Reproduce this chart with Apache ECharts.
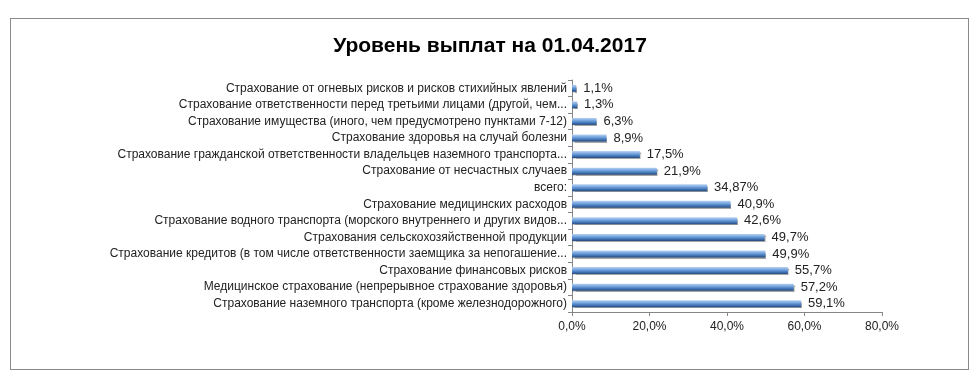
<!DOCTYPE html>
<html>
<head>
<meta charset="utf-8">
<script src="https://cdn.jsdelivr.net/npm/echarts@6/dist/echarts.min.js"></script>
<style>
html,body{margin:0;padding:0;background:#fff;}
#frame{position:absolute;left:10px;top:18px;width:959px;height:352px;border:1px solid #8a8a8a;box-sizing:border-box;}
#chart{position:absolute;left:0;top:0;width:980px;height:382px;}
</style>
</head>
<body>
<div id="frame"></div>
<div id="chart"></div>
<script>
const categories = [
  "Страхование от огневых рисков и рисков стихийных явлений",
  "Страхование ответственности перед третьими лицами (другой, чем...",
  "Страхование имущества (иного, чем предусмотрено пунктами 7-12)",
  "Страхование здоровья на случай болезни",
  "Страхование гражданской ответственности владельцев наземного транспорта...",
  "Страхование от несчастных случаев",
  "всего:",
  "Страхование медицинских расходов",
  "Страхование водного транспорта (морского внутреннего и других видов...",
  "Страхования сельскохозяйственной продукции",
  "Страхование кредитов (в том числе ответственности заемщика за непогашение...",
  "Страхование финансовых рисков",
  "Медицинское страхование (непрерывное страхование здоровья)",
  "Страхование наземного транспорта (кроме железнодорожного)"
];
const values = [1.1, 1.3, 6.3, 8.9, 17.5, 21.9, 34.87, 40.9, 42.6, 49.7, 49.9, 55.7, 57.2, 59.1];
const xTicks = [0, 20, 40, 60, 80];
const title = "Уровень выплат на 01.04.2017";

const chart = echarts.init(document.getElementById('chart'));
const font = "'Liberation Sans', Arial, sans-serif";
chart.setOption({
  animation: false,
  title: {
    text: title, left: 'center', top: 31,
    textStyle: {fontFamily: font, fontSize: 21, fontWeight: 'bold', color: '#000'}
  },
  grid: {left: 572, right: 98, top: 80, bottom: 70, containLabel: false},
  xAxis: {
    type: 'value', min: xTicks[0], max: xTicks[xTicks.length-1], interval: 20,
    splitLine: {show: false},
    axisLine: {show: true, lineStyle: {color: '#868686', width: 1}},
    axisTick: {show: true, length: 4, lineStyle: {color: '#868686'}},
    axisLabel: {fontFamily: font, fontSize: 12, color: '#222', margin: 9,
      formatter: v => v.toFixed(1).replace('.', ',') + '%'}
  },
  yAxis: {
    type: 'category', data: categories, inverse: true,
    axisLine: {show: true, lineStyle: {color: '#868686', width: 1}},
    axisTick: {show: true, length: 4, lineStyle: {color: '#868686'}},
    axisLabel: {fontFamily: font, fontSize: 12, color: '#222', margin: 5}
  },
  series: [{
    type: 'bar', data: values, barWidth: 7,
    itemStyle: {
      color: new echarts.graphic.LinearGradient(0, 0, 0, 1, [
        {offset: 0, color: '#b9d3f2'},
        {offset: 0.35, color: '#7aa8e0'},
        {offset: 0.65, color: '#4a7fc2'},
        {offset: 1, color: '#24497c'}
      ]),
      shadowColor: 'rgba(0,0,0,0.35)', shadowOffsetX: 1, shadowOffsetY: 1, shadowBlur: 1
    },
    label: {
      show: true, position: 'right', distance: 7,
      fontFamily: font, fontSize: 13, color: '#222',
      formatter: p => String(p.value).replace('.', ',') + '%'
    }
  }]
});
</script>
</body>
</html>
